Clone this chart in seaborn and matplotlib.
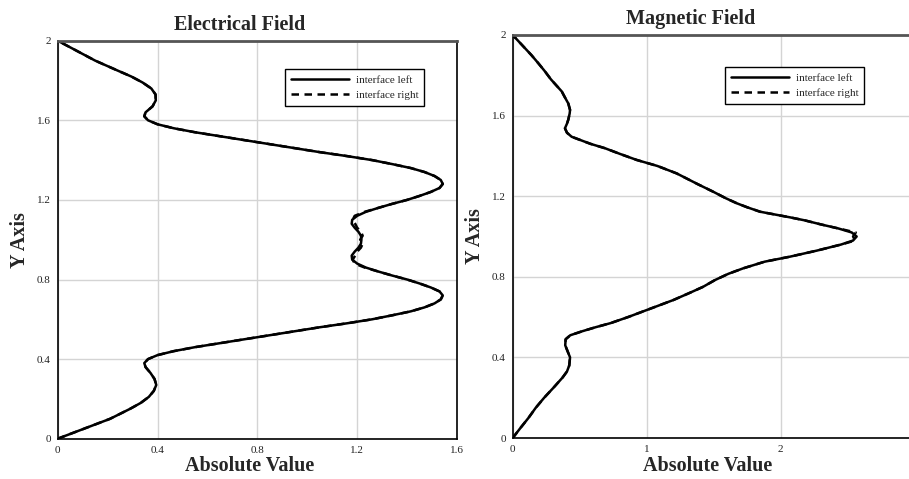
import matplotlib
matplotlib.use("Agg")
import matplotlib.pyplot as plt
import seaborn as sns
import pandas as pd
from matplotlib.ticker import MultipleLocator, FixedLocator

sns.set_style("white")
plt.rcParams["font.family"] = ["Liberation Serif", "DejaVu Serif"]

# ---- Electrical field profile: position along the slab (y) and |E| (x)
e_y = [0.00, 0.05, 0.10, 0.15, 0.18, 0.21, 0.24, 0.27, 0.30, 0.33, 0.36, 0.38,
       0.40, 0.42, 0.44, 0.46, 0.48, 0.50, 0.52, 0.54, 0.56, 0.58, 0.60, 0.62,
       0.64, 0.66, 0.68, 0.70, 0.72, 0.74, 0.76, 0.78, 0.80, 0.82, 0.84, 0.86,
       0.88, 0.90, 0.92, 0.94, 0.96, 0.98, 1.00, 1.02, 1.04, 1.06, 1.08, 1.10,
       1.12, 1.14, 1.16, 1.18, 1.20, 1.22, 1.24, 1.26, 1.28, 1.30, 1.32, 1.34,
       1.36, 1.38, 1.40, 1.42, 1.44, 1.46, 1.48, 1.50, 1.52, 1.54, 1.56, 1.58,
       1.60, 1.62, 1.64, 1.67, 1.70, 1.73, 1.76, 1.79, 1.82, 1.85, 1.90, 1.95,
       2.00]
e_left = [0.000, 0.105, 0.210, 0.290, 0.333, 0.365, 0.385, 0.395, 0.388, 0.372,
          0.352, 0.347, 0.362, 0.400, 0.465, 0.550, 0.650, 0.750, 0.850, 0.950,
          1.050, 1.160, 1.260, 1.340, 1.415, 1.470, 1.510, 1.535, 1.543, 1.530,
          1.495, 1.450, 1.400, 1.340, 1.285, 1.235, 1.200, 1.180, 1.178, 1.190,
          1.205, 1.215, 1.217, 1.215, 1.205, 1.190, 1.178, 1.180, 1.200, 1.235,
          1.285, 1.340, 1.400, 1.450, 1.495, 1.530, 1.543, 1.535, 1.510, 1.470,
          1.415, 1.340, 1.260, 1.160, 1.050, 0.950, 0.850, 0.750, 0.650, 0.550,
          0.465, 0.400, 0.362, 0.347, 0.352, 0.380, 0.393, 0.392, 0.375, 0.340,
          0.295, 0.240, 0.150, 0.075, 0.000]
e_right = [0.000, 0.105, 0.210, 0.290, 0.333, 0.365, 0.385, 0.395, 0.388, 0.372,
           0.352, 0.347, 0.362, 0.400, 0.465, 0.550, 0.650, 0.750, 0.850, 0.950,
           1.050, 1.160, 1.260, 1.340, 1.415, 1.470, 1.510, 1.535, 1.543, 1.530,
           1.495, 1.450, 1.400, 1.340, 1.285, 1.230, 1.190, 1.182, 1.192, 1.200,
           1.215, 1.222, 1.212, 1.222, 1.215, 1.200, 1.192, 1.182, 1.190, 1.230,
           1.285, 1.340, 1.400, 1.450, 1.495, 1.530, 1.543, 1.535, 1.510, 1.470,
           1.415, 1.340, 1.260, 1.160, 1.050, 0.950, 0.850, 0.750, 0.650, 0.550,
           0.465, 0.400, 0.362, 0.347, 0.352, 0.380, 0.393, 0.392, 0.375, 0.340,
           0.295, 0.240, 0.150, 0.075, 0.000]

# ---- Magnetic field profile
m_y = [0.00, 0.05, 0.10, 0.15, 0.20, 0.25, 0.30, 0.33, 0.36, 0.40, 0.43, 0.46,
       0.49, 0.51, 0.53, 0.55, 0.57, 0.60, 0.635, 0.685, 0.72, 0.75, 0.784,
       0.815, 0.842, 0.875, 0.90, 0.93, 0.96, 0.98, 1.00, 1.02, 1.04, 1.06,
       1.08, 1.095, 1.123, 1.145, 1.165, 1.19, 1.222, 1.26, 1.313, 1.35, 1.38,
       1.41, 1.438, 1.46, 1.48, 1.495, 1.515, 1.537, 1.56, 1.58, 1.61, 1.628,
       1.66, 1.69, 1.72, 1.78, 1.82, 1.86, 1.90, 1.95, 2.00]
m_left = [0.000, 0.058, 0.118, 0.172, 0.235, 0.305, 0.372, 0.405, 0.422, 0.428,
          0.410, 0.392, 0.395, 0.430, 0.520, 0.620, 0.730, 0.860, 1.000, 1.200,
          1.320, 1.420, 1.510, 1.610, 1.720, 1.880, 2.070, 2.270, 2.450, 2.540,
          2.567, 2.530, 2.430, 2.300, 2.180, 2.070, 1.846, 1.750, 1.672, 1.590,
          1.497, 1.380, 1.224, 1.080, 0.925, 0.800, 0.689, 0.580, 0.500, 0.440,
          0.405, 0.390, 0.405, 0.415, 0.425, 0.428, 0.415, 0.390, 0.366, 0.285,
          0.240, 0.191, 0.140, 0.070, 0.000]
m_right = [0.000, 0.058, 0.118, 0.172, 0.235, 0.305, 0.372, 0.405, 0.422, 0.428,
           0.410, 0.392, 0.395, 0.430, 0.520, 0.620, 0.730, 0.860, 1.000, 1.200,
           1.320, 1.420, 1.510, 1.610, 1.720, 1.880, 2.070, 2.270, 2.450, 2.555,
           2.540, 2.560, 2.430, 2.300, 2.180, 2.070, 1.846, 1.750, 1.672, 1.590,
           1.497, 1.380, 1.224, 1.080, 0.925, 0.800, 0.689, 0.580, 0.500, 0.440,
           0.405, 0.390, 0.405, 0.415, 0.425, 0.428, 0.415, 0.390, 0.366, 0.285,
           0.240, 0.191, 0.140, 0.070, 0.000]

series_names = ["interface left", "interface right"]
titles = ["Electrical Field", "Magnetic Field"]
e_xticks = [0, 0.4, 0.8, 1.2, 1.6]
m_xticks = [0, 1, 2]
y_ticks = [0, 0.4, 0.8, 1.2, 1.6, 2]

W, H = 909, 479
fig = plt.figure(figsize=(W / 100, H / 100), dpi=100)

def px_axes(x0, x1, ytop, ybot):
    return fig.add_axes([x0 / W, 1 - ybot / H, (x1 - x0) / W, (ybot - ytop) / H])

ax_e = px_axes(57.7, 457.0, 40.7, 438.7)
ax_m = px_axes(512.7, 914.7, 35.0, 438.0)

panels = [
    (ax_e, e_y, e_left, e_right, 1.6, e_xticks, 0.2),
    (ax_m, m_y, m_left, m_right, 3.0, m_xticks, 0.5),
]

fmt = plt.FuncFormatter(lambda v, p: "%g" % round(v, 2))

for ax, ys, xl, xr, xmax, xticks, xminor in panels:
    df = pd.DataFrame({"y": ys + ys, "x": xl + xr,
                       "series": [series_names[0]] * len(ys) + [series_names[1]] * len(ys)})
    sns.lineplot(data=df, x="x", y="y", style="series", sort=False, estimator=None,
                 color="black", linewidth=1.8, ax=ax,
                 dashes={series_names[0]: "", series_names[1]: (3.0, 2.2)})
    ax.set_xlim(0, xmax)
    ax.set_ylim(0, 2)
    ax.xaxis.set_major_locator(FixedLocator(xticks))
    ax.xaxis.set_minor_locator(MultipleLocator(xminor))
    ax.yaxis.set_major_locator(FixedLocator(y_ticks))
    ax.yaxis.set_minor_locator(MultipleLocator(0.2))
    ax.xaxis.set_major_formatter(fmt)
    ax.yaxis.set_major_formatter(fmt)
    ax.grid(True, which="major", color="#d4d4d4", linewidth=1.0)
    ax.set_axisbelow(True)
    ax.tick_params(which="major", direction="in", length=13, width=2,
                   color="#a8a8a8", labelsize=8, labelcolor="#222222", pad=5)
    ax.tick_params(which="minor", direction="in", length=7, width=1, color="black")
    for side in ["left", "bottom", "right"]:
        ax.spines[side].set_color("black")
        ax.spines[side].set_linewidth(1.2)
    ax.spines["top"].set_color("#555555")
    ax.spines["top"].set_linewidth(2)

    ax.set_xlabel("Absolute Value", fontsize=14.5, fontweight="bold")
    ax.set_ylabel("Y Axis", fontsize=14.5, fontweight="bold")
    ax.yaxis.label.set_va("center")
    ax.xaxis.label.set_va("center")

ax_e.set_title(titles[0], fontsize=14.5, fontweight="bold", x=0.4545, pad=8)
ax_m.set_title(titles[1], fontsize=14.5, fontweight="bold", x=0.443, pad=8)

ax_e.xaxis.set_label_coords((249.7 - 57.7) / 399.3, (438.7 - 466) / 398)
ax_e.yaxis.set_label_coords((20 - 57.7) / 399.3, 0.5)
ax_m.xaxis.set_label_coords((708 - 512.7) / 402, (438 - 466) / 403)
ax_m.yaxis.set_label_coords((475 - 512.7) / 402, 0.5)

# legends placed by their top-left corner in pixels
for ax, (lx, ly) in [(ax_e, (285, 69)), (ax_m, (725, 67))]:
    h, l = ax.get_legend_handles_labels()
    leg = ax.legend(h, l, loc="upper left",
                    bbox_to_anchor=(lx / W, 1 - ly / H), bbox_transform=fig.transFigure,
                    fontsize=8, frameon=True, fancybox=False, framealpha=1,
                    edgecolor="black", borderpad=0.55, handlelength=5.2,
                    handletextpad=0.6, labelspacing=0.45, borderaxespad=0)
    leg.get_frame().set_linewidth(1.0)

fig.savefig("out.png", dpi=100)
